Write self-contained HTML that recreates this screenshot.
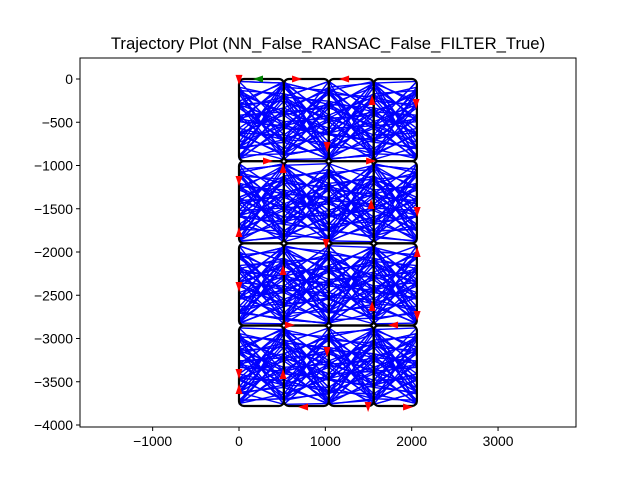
<!DOCTYPE html>
<html><head><meta charset="utf-8"><style>
body{margin:0;background:#fff}
svg{display:block;font-family:"Liberation Sans",sans-serif}
</style></head><body>
<svg id="chart" width="640" height="480" xmlns="http://www.w3.org/2000/svg">
<rect width="640" height="480" fill="#fff"/>
<text x="328" y="49" text-anchor="middle" font-size="16.7">Trajectory Plot (NN_False_RANSAC_False_FILTER_True)</text>
<defs><clipPath id="clip"><rect x="80" y="58" width="496" height="369"/></clipPath></defs>
<g id="plot" clip-path="url(#clip)"></g>
<rect x="80" y="58" width="496" height="369" fill="none" stroke="#000" stroke-width="1"/>
<g id="axes"></g>
</svg>
<script>
const xTicks=[-1000,0,1000,2000,3000];
const yTicks=[0,-500,-1000,-1500,-2000,-2500,-3000,-3500,-4000];
const colEdges=[0,520,1040,1560,2060];
const rowEdges=[0,-950,-1900,-2850,-3780];
const fracLeft=[0.03,0.1,0.18,0.27,0.35,0.44,0.52,0.6,0.68,0.77,0.85,0.93,0.98];
const fracRight=[0.05,0.14,0.22,0.31,0.4,0.48,0.57,0.66,0.74,0.83,0.91,0.97];
const arrows=[[0,-10,'d'],[672,0,'r'],[1217,0,'l'],[1020,-786,'d'],[1541,-243,'u'],[2051,-289,'d'],[336,-948,'r'],[510,-1029,'u'],[1530,-948,'r'],[0,-1179,'d'],[0,-1769,'u'],[1530,-1445,'u'],[2063,-1538,'d'],[1008,-1908,'d'],[2063,-2000,'u'],[510,-2208,'u'],[0,-2405,'d'],[1541,-2624,'u'],[2063,-2740,'d'],[590,-2844,'r'],[1784,-2844,'l'],[1020,-3156,'d'],[0,-3410,'d'],[0,-3584,'u'],[510,-3410,'u'],[742,-3792,'l'],[1495,-3792,'d'],[1958,-3792,'r']];
const startPoint=[220,0];
const X=v=>239+v*0.08635, Y=v=>79-v*0.0865;
const NS='http://www.w3.org/2000/svg';
const plot=document.getElementById('plot'), axes=document.getElementById('axes');
function mk(t,a,p){const e=document.createElementNS(NS,t);for(const k in a)e.setAttribute(k,a[k]);p.appendChild(e);return e;}
for(let c=0;c<4;c++)for(let r=0;r<4;r++){
  const x0=X(colEdges[c]),x1=X(colEdges[c+1]),y0=Y(rowEdges[r]),y1=Y(rowEdges[r+1]);
  for(let i=0;i<fracLeft.length;i++)for(let k=0;k<5;k++){
    const j=(i*5+k*3+c*2+r)%fracRight.length;
    const flip=(i+k+c+r)%2===0;
    const ya=y0+(y1-y0)*fracLeft[i], yb=y0+(y1-y0)*fracRight[j];
    const l=mk('line',{x1:flip?x0:x1,y1:ya,x2:flip?x1:x0,y2:yb,stroke:'#0000ff','stroke-width':1.4},plot);
    
    
  }
}
for(let c=0;c<4;c++)for(let r=0;r<4;r++){
  const x0=X(colEdges[c]),x1=X(colEdges[c+1]),y0=Y(rowEdges[r]),y1=Y(rowEdges[r+1]);
  const e=mk('rect',{x:x0,y:y0,width:x1-x0,height:y1-y0,rx:5,fill:'none',stroke:'#000','stroke-width':2.2},plot);
  
  
}
function tri(x,y,d,col){
  const s=5;let p;
  if(d==='d')p=[[x-s*0.7,y-s],[x+s*0.7,y-s],[x,y+s]];
  else if(d==='u')p=[[x-s*0.7,y+s],[x+s*0.7,y+s],[x,y-s]];
  else if(d==='r')p=[[x-s,y-s*0.7],[x-s,y+s*0.7],[x+s,y]];
  else p=[[x+s,y-s*0.7],[x+s,y+s*0.7],[x-s,y]];
  return mk('polygon',{points:p.map(q=>q.join(',')).join(' '),fill:col},plot);
}
arrows.forEach(a=>{const t=tri(X(a[0]),Y(a[1]),a[2],'#ff0000');
  
  });
const g=tri(X(startPoint[0]),Y(startPoint[1]),'l','#008000');


xTicks.forEach(v=>{const x=X(v);mk('line',{x1:x,y1:427,x2:x,y2:431,stroke:'#000'},axes);
  const t=mk('text',{x:x,y:446,'text-anchor':'middle','font-size':'13.9'},axes);t.textContent=v<0?'\u2212'+(-v):v;
  
  });
yTicks.forEach(v=>{const y=Y(v);mk('line',{x1:76,y1:y,x2:80,y2:y,stroke:'#000'},axes);
  const t=mk('text',{x:73,y:y+5,'text-anchor':'end','font-size':'13.9'},axes);t.textContent=v<0?'\u2212'+(-v):v;
  
  });
</script>
</body></html>
